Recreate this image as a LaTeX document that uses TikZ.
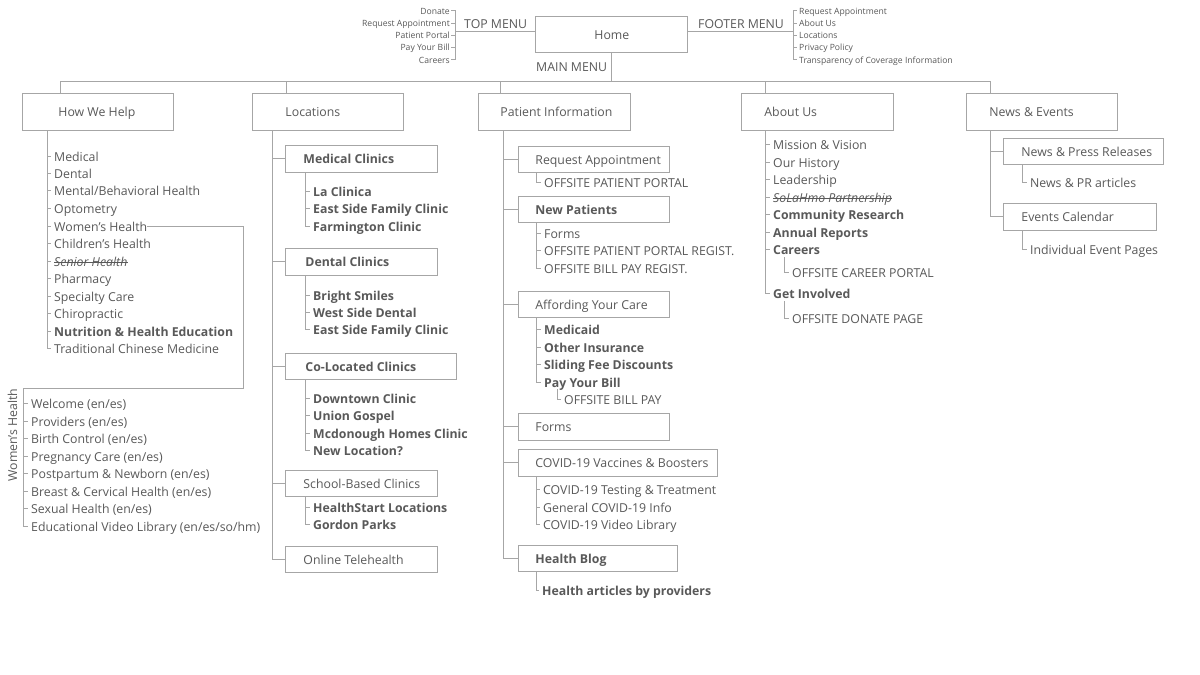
\documentclass[tikz,border=0pt]{standalone}
\usepackage{fontspec}
\setmainfont{Open Sans}
\definecolor{lncol}{HTML}{A6A6A6}
\definecolor{txt}{HTML}{595959}
\newcommand\bx[8][]{%
  \pgfmathsetmacro\bxw{#4-#3}%
  \pgfmathsetmacro\bxh{#6-#5}%
  \pgfmathsetmacro\bxy{(#5+#6)/2}%
  \node[boxst,#1,minimum height=\bxh pt,anchor=west] (#2) at (#3,\bxy) {\makebox[\bxw pt][l]{\hspace{#7pt}#8}};}
\newcommand\itm[5][]{\node[it,#1] (#2) at (#3,#4) {#5};}
\newcommand\tk[2]{\draw[ln] (#1) |- ([xshift=-3pt]#2.west);}
\begin{document}
\begin{tikzpicture}[x=1pt,y=-1pt,
  ln/.style={draw=lncol,line width=0.9pt},
  boxst/.style={draw=lncol,line width=0.9pt,text=txt,font=\fontsize{12.3}{14}\selectfont,inner sep=0pt,text height=10.5pt,text depth=0pt},
  it/.style={anchor=west,inner sep=0pt,text=txt,font=\fontsize{12.3}{14}\selectfont,text height=10.3pt,text depth=0pt},
  sm/.style={inner sep=0pt,text=txt,font=\fontsize{8.6}{10}\selectfont,text height=7pt,text depth=0pt},
  bf/.style={font=\fontsize{12.3}{14}\selectfont\bfseries},
  strike/.style={draw=txt,line width=0.6pt}]
\useasboundingbox (0,0) rectangle (1200,675);
\fill[white] (0,0) rectangle (1200,675);

% ---------- top ----------
\bx{home}{535}{687}{16}{52}{59}{Home}
\node[it] (toplbl) at (464,23) {TOP MENU};
\node[it] (footlbl) at (698,23) {FOOTER MENU};
\node[it] (mainlbl) at (536,66) {MAIN MENU};
\coordinate (tmb) at (455,31);
\coordinate (fmb) at (793,31);
\draw[ln] (home.west |- tmb) -- (tmb);
\draw[ln] (home.east |- fmb) -- (fmb);
\node[sm,anchor=east] (tm1) at (450,10.7) {Donate};
\node[sm,anchor=east] (tm2) at (450,23) {Request Appointment};
\node[sm,anchor=east] (tm3) at (450,35) {Patient Portal};
\node[sm,anchor=east] (tm4) at (450,47) {Pay Your Bill};
\node[sm,anchor=east] (tm5) at (450,59.6) {Careers};
\foreach \n in {tm1,tm2,tm3,tm4,tm5} {\draw[ln] (tmb) |- ([xshift=1pt]\n.east);}
\node[sm,anchor=west] (fm1) at (799,10.7) {Request Appointment};
\node[sm,anchor=west] (fm2) at (799,23) {About Us};
\node[sm,anchor=west] (fm3) at (799,35) {Locations};
\node[sm,anchor=west] (fm4) at (799,47) {Privacy Policy};
\node[sm,anchor=west] (fm5) at (799,59.6) {Transparency of Coverage Information};
\foreach \n in {fm1,fm2,fm3,fm4,fm5} {\draw[ln] (fmb) |- ([xshift=-2pt]\n.west);}

% ---------- main boxes ----------
\bx{hwh}{22}{173}{93}{130}{36}{How We Help}
\bx{loc}{252}{403}{93}{130}{33}{Locations}
\bx{pat}{478}{630}{93}{130}{22}{Patient Information}
\bx{abt}{741}{893}{93}{130}{23}{About Us}
\bx{nws}{966}{1117}{93}{130}{23}{News \& Events}
\coordinate (mm) at (611,81);
\coordinate (d1) at (60,81);
\coordinate (d2) at (286,81);
\coordinate (d3) at (500,81);
\coordinate (d4) at (765,81);
\coordinate (d5) at (990,81);
\draw[ln] (home.south -| mm) -- (mm);
\draw[ln] (d1) -- (d5);
\draw[ln] (d1) -- (d1 |- hwh.north);
\draw[ln] (d2) -- (d2 |- loc.north);
\draw[ln] (d3) -- (d3 |- pat.north);
\draw[ln] (d4) -- (d4 |- abt.north);
\draw[ln] (d5) -- (d5 |- nws.north);

% ---------- How We Help ----------
\coordinate (hs) at (47,130);
\itm{h1}{54}{156}{Medical}
\itm{h2}{54}{173}{Dental}
\itm{h3}{54}{190.5}{Mental/Behavioral Health}
\itm{h4}{54}{208}{Optometry}
\itm{h5}{54}{226}{Women's Health}
\itm{h6}{54}{243}{Children's Health}
\itm{h7}{54}{261}{\itshape Senior Health}
\itm{h8}{54}{278}{Pharmacy}
\itm{h9}{54}{296}{Specialty Care}
\itm{h10}{54}{313}{Chiropractic}
\itm[bf]{h11}{54}{331}{Nutrition \& Health Education}
\itm{h12}{54}{348}{Traditional Chinese Medicine}
\foreach \n in {h1,h2,h3,h4,h5,h6,h7,h8,h9,h10,h11,h12} {\tk{hs}{\n}}
\draw[strike] ([yshift=-1.5pt]h7.west) -- ([yshift=-1.5pt]h7.east);

% Women's Health
\coordinate (whc) at (243,388);
\coordinate (whs) at (23,388);
\draw[ln] (h5.east) -| (whc) -- (whs);
\node[it,anchor=center,rotate=90] (whl) at (12,435) {Women's Health};
\itm{w1}{31}{403}{Welcome (en/es)}
\itm{w2}{31}{421}{Providers (en/es)}
\itm{w3}{31}{438}{Birth Control (en/es)}
\itm{w4}{31}{456}{Pregnancy Care (en/es)}
\itm{w5}{31}{473}{Postpartum \& Newborn (en/es)}
\itm{w6}{31}{491}{Breast \& Cervical Health (en/es)}
\itm{w7}{31}{508}{Sexual Health (en/es)}
\itm{w8}{31}{526}{Educational Video Library (en/es/so/hm)}
\foreach \n in {w1,w2,w3,w4,w5,w6,w7,w8} {\tk{whs}{\n}}

% ---------- Locations ----------
\coordinate (ls) at (272,130);
\bx[bf]{mc}{285}{437}{145}{172}{18}{Medical Clinics}
\bx[bf]{dc}{285}{437}{248}{275}{20}{Dental Clinics}
\bx[bf]{cc}{285}{456}{353}{379}{20}{Co-Located Clinics}
\bx{sb}{285}{437}{470}{496}{18}{School-Based Clinics}
\bx{ot}{285}{437}{546}{572}{18}{Online Telehealth}
\foreach \n in {mc,dc,cc,sb,ot} {\draw[ln] (ls) |- (\n.west);}
\coordinate (mcs) at (305,172);
\itm[bf]{l1}{313}{191}{La Clinica}
\itm[bf]{l2}{313}{208}{East Side Family Clinic}
\itm[bf]{l3}{313}{226}{Farmington Clinic}
\foreach \n in {l1,l2,l3} {\tk{mcs}{\n}}
\coordinate (dcs) at (305,275);
\itm[bf]{l4}{313}{295}{Bright Smiles}
\itm[bf]{l5}{313}{312}{West Side Dental}
\itm[bf]{l6}{313}{329}{East Side Family Clinic}
\foreach \n in {l4,l5,l6} {\tk{dcs}{\n}}
\coordinate (ccs) at (305,379);
\itm[bf]{l7}{313}{398}{Downtown Clinic}
\itm[bf]{l8}{313}{415.5}{Union Gospel}
\itm[bf]{l9}{313}{433}{Mcdonough Homes Clinic}
\itm[bf]{l10}{313}{450}{New Location?}
\foreach \n in {l7,l8,l9,l10} {\tk{ccs}{\n}}
\coordinate (sbs) at (305,496);
\itm[bf]{l11}{313}{507}{HealthStart Locations}
\itm[bf]{l12}{313}{524}{Gordon Parks}
\foreach \n in {l11,l12} {\tk{sbs}{\n}}

% ---------- Patient Information ----------
\coordinate (ps) at (503,130);
\bx{ra}{518}{669}{146}{172}{17}{Request Appointment}
\bx[bf]{np}{518}{669}{196}{222}{17}{New Patients}
\bx{ay}{518}{669}{291}{317}{17}{Affording Your Care}
\bx{fm}{518}{669}{413}{440}{17}{Forms}
\bx{cv}{518}{717}{449}{476}{17}{COVID-19 Vaccines \& Boosters}
\bx[bf]{hb}{518}{677}{545}{571}{17}{Health Blog}
\foreach \n in {ra,np,ay,fm,cv,hb} {\draw[ln] (ps) |- (\n.west);}
\coordinate (ras) at (536,172);
\itm{p1}{544}{182}{OFFSITE PATIENT PORTAL}
\tk{ras}{p1}
\coordinate (nps) at (536,222);
\itm{p2}{544}{233}{Forms}
\itm{p3}{544}{250.5}{OFFSITE PATIENT PORTAL REGIST.}
\itm{p4}{544}{268}{OFFSITE BILL PAY REGIST.}
\foreach \n in {p2,p3,p4} {\tk{nps}{\n}}
\coordinate (ays) at (536,317);
\itm[bf]{p5}{544}{329}{Medicaid}
\itm[bf]{p6}{544}{347}{Other Insurance}
\itm[bf]{p7}{544}{364}{Sliding Fee Discounts}
\itm[bf]{p8}{544}{382}{Pay Your Bill}
\foreach \n in {p5,p6,p7,p8} {\tk{ays}{\n}}
\itm{p9}{564}{399}{OFFSITE BILL PAY}
\draw[ln] ([xshift=13pt,yshift=-2pt]p8.south west) |- ([xshift=-3pt]p9.west);
\coordinate (cvs) at (536,476);
\itm{p10}{543}{489}{COVID-19 Testing \& Treatment}
\itm{p11}{543}{507}{General COVID-19 Info}
\itm{p12}{543}{524}{COVID-19 Video Library}
\foreach \n in {p10,p11,p12} {\tk{cvs}{\n}}
\coordinate (hbs) at (536,571);
\itm[bf]{p13}{542}{590}{Health articles by providers}
\tk{hbs}{p13}

% ---------- About Us ----------
\coordinate (as) at (765,130);
\itm{a1}{773}{144}{Mission \& Vision}
\itm{a2}{773}{162}{Our History}
\itm{a3}{773}{179}{Leadership}
\itm{a4}{773}{197}{\itshape SoLaHmo Partnership}
\itm[bf]{a5}{773}{214}{Community Research}
\itm[bf]{a6}{773}{232}{Annual Reports}
\itm[bf]{a7}{773}{249}{Careers}
\itm[bf]{a8}{773}{293}{Get Involved}
\foreach \n in {a1,a2,a3,a4,a5,a6,a7,a8} {\tk{as}{\n}}
\draw[strike] ([yshift=-1.5pt]a4.west) -- ([yshift=-1.5pt]a4.east);
\itm{a9}{792}{272}{OFFSITE CAREER PORTAL}
\itm{a10}{792}{318}{OFFSITE DONATE PAGE}
\draw[ln] ([xshift=11pt,yshift=-3pt]a7.south west) |- ([xshift=-3pt]a9.west);
\draw[ln] ([xshift=11pt,yshift=-3pt]a8.south west) |- ([xshift=-3pt]a10.west);

% ---------- News & Events ----------
\coordinate (ns) at (990,130);
\bx{npr}{1003}{1163}{138}{164}{18}{News \& Press Releases}
\bx{ec}{1003}{1156}{203}{230}{18}{Events Calendar}
\foreach \n in {npr,ec} {\draw[ln] (ns) |- (\n.west);}
\coordinate (nprs) at (1022,164);
\itm{n1}{1030}{182}{News \& PR articles}
\tk{nprs}{n1}
\coordinate (ecs) at (1022,230);
\itm{n2}{1030}{249}{Individual Event Pages}
\tk{ecs}{n2}
\end{tikzpicture}
\end{document}
